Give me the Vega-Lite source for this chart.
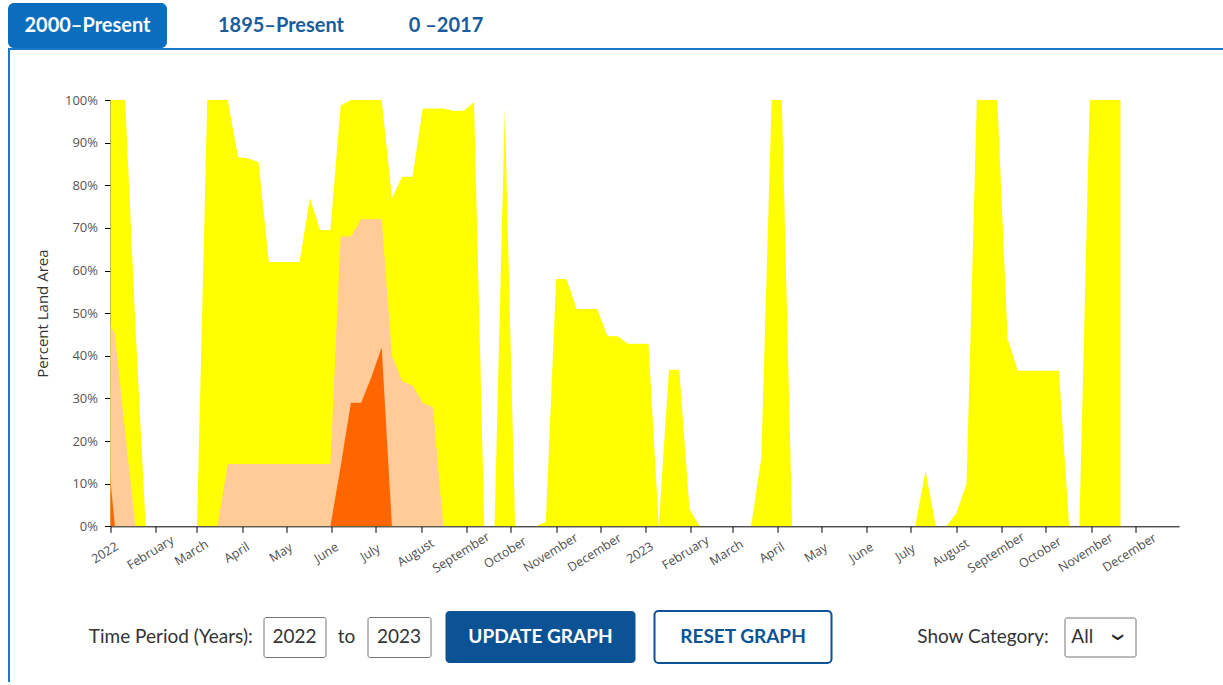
{
  "$schema": "https://vega.github.io/schema/vega-lite/v6.json",
  "background": "#ffffff",
  "padding": {"left": 8, "top": 3, "right": 0, "bottom": 0},
  "bounds": "full",
  "spacing": 0,
  "datasets": {
    "drought": [
      {"date": "2021-12-28", "d0": 100, "d1": 50, "d2": 25},
      {"date": "2022-01-04", "d0": 100, "d1": 45, "d2": 0},
      {"date": "2022-01-11", "d0": 100, "d1": 22, "d2": 0},
      {"date": "2022-01-18", "d0": 47, "d1": 0, "d2": 0},
      {"date": "2022-01-25", "d0": 0, "d1": 0, "d2": 0},
      {"date": "2022-02-01", "d0": 0, "d1": 0, "d2": 0},
      {"date": "2022-02-08", "d0": 0, "d1": 0, "d2": 0},
      {"date": "2022-02-15", "d0": 0, "d1": 0, "d2": 0},
      {"date": "2022-02-22", "d0": 0, "d1": 0, "d2": 0},
      {"date": "2022-03-01", "d0": 0, "d1": 0, "d2": 0},
      {"date": "2022-03-08", "d0": 100, "d1": 0, "d2": 0},
      {"date": "2022-03-15", "d0": 100, "d1": 0, "d2": 0},
      {"date": "2022-03-22", "d0": 100, "d1": 14.6, "d2": 0},
      {"date": "2022-03-29", "d0": 86.6, "d1": 14.6, "d2": 0},
      {"date": "2022-04-05", "d0": 86.3, "d1": 14.6, "d2": 0},
      {"date": "2022-04-12", "d0": 85.4, "d1": 14.6, "d2": 0},
      {"date": "2022-04-19", "d0": 62, "d1": 14.6, "d2": 0},
      {"date": "2022-04-26", "d0": 62, "d1": 14.6, "d2": 0},
      {"date": "2022-05-03", "d0": 62, "d1": 14.6, "d2": 0},
      {"date": "2022-05-10", "d0": 62, "d1": 14.6, "d2": 0},
      {"date": "2022-05-17", "d0": 77, "d1": 14.6, "d2": 0},
      {"date": "2022-05-24", "d0": 69.5, "d1": 14.6, "d2": 0},
      {"date": "2022-05-31", "d0": 69.5, "d1": 14.6, "d2": 0},
      {"date": "2022-06-07", "d0": 98.7, "d1": 68, "d2": 14},
      {"date": "2022-06-14", "d0": 100, "d1": 68, "d2": 29},
      {"date": "2022-06-21", "d0": 100, "d1": 72, "d2": 29},
      {"date": "2022-06-28", "d0": 100, "d1": 72, "d2": 35},
      {"date": "2022-07-05", "d0": 100, "d1": 72, "d2": 42},
      {"date": "2022-07-12", "d0": 77, "d1": 40, "d2": 0},
      {"date": "2022-07-19", "d0": 82, "d1": 34, "d2": 0},
      {"date": "2022-07-26", "d0": 82, "d1": 33, "d2": 0},
      {"date": "2022-08-02", "d0": 98, "d1": 29, "d2": 0},
      {"date": "2022-08-09", "d0": 98, "d1": 28, "d2": 0},
      {"date": "2022-08-16", "d0": 98, "d1": 0, "d2": 0},
      {"date": "2022-08-23", "d0": 97.5, "d1": 0, "d2": 0},
      {"date": "2022-08-30", "d0": 97.5, "d1": 0, "d2": 0},
      {"date": "2022-09-06", "d0": 99.5, "d1": 0, "d2": 0},
      {"date": "2022-09-13", "d0": 0, "d1": 0, "d2": 0},
      {"date": "2022-09-20", "d0": 0, "d1": 0, "d2": 0},
      {"date": "2022-09-27", "d0": 98, "d1": 0, "d2": 0},
      {"date": "2022-10-04", "d0": 0, "d1": 0, "d2": 0},
      {"date": "2022-10-11", "d0": 0, "d1": 0, "d2": 0},
      {"date": "2022-10-18", "d0": 0, "d1": 0, "d2": 0},
      {"date": "2022-10-25", "d0": 1, "d1": 0, "d2": 0},
      {"date": "2022-11-01", "d0": 58, "d1": 0, "d2": 0},
      {"date": "2022-11-08", "d0": 58, "d1": 0, "d2": 0},
      {"date": "2022-11-15", "d0": 51, "d1": 0, "d2": 0},
      {"date": "2022-11-22", "d0": 51, "d1": 0, "d2": 0},
      {"date": "2022-11-29", "d0": 51, "d1": 0, "d2": 0},
      {"date": "2022-12-06", "d0": 44.6, "d1": 0, "d2": 0},
      {"date": "2022-12-13", "d0": 44.6, "d1": 0, "d2": 0},
      {"date": "2022-12-20", "d0": 42.8, "d1": 0, "d2": 0},
      {"date": "2022-12-27", "d0": 42.8, "d1": 0, "d2": 0},
      {"date": "2023-01-03", "d0": 42.8, "d1": 0, "d2": 0},
      {"date": "2023-01-10", "d0": 0, "d1": 0, "d2": 0},
      {"date": "2023-01-17", "d0": 36.7, "d1": 0, "d2": 0},
      {"date": "2023-01-24", "d0": 36.7, "d1": 0, "d2": 0},
      {"date": "2023-01-31", "d0": 4, "d1": 0, "d2": 0},
      {"date": "2023-02-07", "d0": 0, "d1": 0, "d2": 0},
      {"date": "2023-02-14", "d0": 0, "d1": 0, "d2": 0},
      {"date": "2023-02-21", "d0": 0, "d1": 0, "d2": 0},
      {"date": "2023-02-28", "d0": 0, "d1": 0, "d2": 0},
      {"date": "2023-03-07", "d0": 0, "d1": 0, "d2": 0},
      {"date": "2023-03-14", "d0": 0, "d1": 0, "d2": 0},
      {"date": "2023-03-21", "d0": 16, "d1": 0, "d2": 0},
      {"date": "2023-03-28", "d0": 100, "d1": 0, "d2": 0},
      {"date": "2023-04-04", "d0": 100, "d1": 0, "d2": 0},
      {"date": "2023-04-11", "d0": 0, "d1": 0, "d2": 0},
      {"date": "2023-04-18", "d0": 0, "d1": 0, "d2": 0},
      {"date": "2023-04-25", "d0": 0, "d1": 0, "d2": 0},
      {"date": "2023-05-02", "d0": 0, "d1": 0, "d2": 0},
      {"date": "2023-05-09", "d0": 0, "d1": 0, "d2": 0},
      {"date": "2023-05-16", "d0": 0, "d1": 0, "d2": 0},
      {"date": "2023-05-23", "d0": 0, "d1": 0, "d2": 0},
      {"date": "2023-05-30", "d0": 0, "d1": 0, "d2": 0},
      {"date": "2023-06-06", "d0": 0, "d1": 0, "d2": 0},
      {"date": "2023-06-13", "d0": 0, "d1": 0, "d2": 0},
      {"date": "2023-06-20", "d0": 0, "d1": 0, "d2": 0},
      {"date": "2023-06-27", "d0": 0, "d1": 0, "d2": 0},
      {"date": "2023-07-04", "d0": 0, "d1": 0, "d2": 0},
      {"date": "2023-07-11", "d0": 13, "d1": 0, "d2": 0},
      {"date": "2023-07-18", "d0": 0, "d1": 0, "d2": 0},
      {"date": "2023-07-25", "d0": 0, "d1": 0, "d2": 0},
      {"date": "2023-08-01", "d0": 3, "d1": 0, "d2": 0},
      {"date": "2023-08-08", "d0": 10, "d1": 0, "d2": 0},
      {"date": "2023-08-15", "d0": 100, "d1": 0, "d2": 0},
      {"date": "2023-08-22", "d0": 100, "d1": 0, "d2": 0},
      {"date": "2023-08-29", "d0": 100, "d1": 0, "d2": 0},
      {"date": "2023-09-05", "d0": 44, "d1": 0, "d2": 0},
      {"date": "2023-09-12", "d0": 36.5, "d1": 0, "d2": 0},
      {"date": "2023-09-19", "d0": 36.5, "d1": 0, "d2": 0},
      {"date": "2023-09-26", "d0": 36.5, "d1": 0, "d2": 0},
      {"date": "2023-10-03", "d0": 36.5, "d1": 0, "d2": 0},
      {"date": "2023-10-10", "d0": 36.5, "d1": 0, "d2": 0},
      {"date": "2023-10-17", "d0": 0, "d1": 0, "d2": 0},
      {"date": "2023-10-24", "d0": 0, "d1": 0, "d2": 0},
      {"date": "2023-10-31", "d0": 100, "d1": 0, "d2": 0},
      {"date": "2023-11-07", "d0": 100, "d1": 0, "d2": 0},
      {"date": "2023-11-14", "d0": 100, "d1": 0, "d2": 0},
      {"date": "2023-11-21", "d0": 100, "d1": 0, "d2": 0}
    ],
    "blank": []
  },
  "vconcat": [
    {
      "hconcat": [
        {
          "width": 159, "height": 45,
          "view": {"fill": "#0b6dbd", "stroke": null, "cornerRadius": 6},
          "data": {"values": [{"label": "2000–Present"}]},
          "mark": {"type": "text", "font": "Lato", "fontWeight": "bold", "fontSize": 20, "color": "#ffffff", "baseline": "middle"},
          "encoding": {
            "x": {"field": "label", "type": "nominal", "axis": null},
            "y": {"field": "label", "type": "nominal", "axis": null},
            "text": {"field": "label"}
          }
        },
        {
          "width": 228, "height": 45,
          "data": {"values": [{"label": "1895–Present"}]},
          "mark": {"type": "text", "font": "Lato", "fontWeight": "bold", "fontSize": 20, "color": "#1a5c9c", "baseline": "middle"},
          "encoding": {
            "x": {"field": "label", "type": "nominal", "axis": null},
            "y": {"field": "label", "type": "nominal", "axis": null},
            "text": {"field": "label"}
          }
        },
        {
          "width": 102, "height": 45,
          "data": {"values": [{"label": "0 –2017"}]},
          "mark": {"type": "text", "font": "Lato", "fontWeight": "bold", "fontSize": 20, "color": "#1a5c9c", "baseline": "middle"},
          "encoding": {
            "x": {"field": "label", "type": "nominal", "axis": null},
            "y": {"field": "label", "type": "nominal", "axis": null},
            "text": {"field": "label"}
          }
        }
      ],
      "spacing": 0,
      "bounds": "flush"
    },
    {
      "width": 1215, "height": 2,
      "view": {"fill": "#1b76cc", "stroke": null},
      "data": {"name": "blank"},
      "mark": "text",
      "encoding": {}
    },
    {
      "hconcat": [
        {
          "width": 2, "height": 632,
          "view": {"fill": "#1b76cc", "stroke": null},
          "data": {"name": "blank"},
          "mark": "text",
          "encoding": {}
        },
        {
          "vconcat": [
            {
              "width": 10, "height": 49.3,
              "data": {"name": "blank"},
              "mark": "text",
              "encoding": {}
            },
            {
              "width": 1068.6, "height": 426.3,
              "data": {"name": "drought"},
              "encoding": {
                "x": {
                  "field": "date", "type": "temporal", "title": null,
                  "scale": {"type": "utc", "domain": [{"year": 2022, "month": 1, "date": 1, "utc": true}, {"year": 2023, "month": 12, "date": 31, "utc": true}]},
                  "axis": {
                    "tickCount": {"interval": "month", "step": 1},
                    "labelAngle": -32, "labelAlign": "center", "labelBaseline": "middle",
                    "labelOverlap": false, "labelFlush": false, "labelOffset": -6,
                    "grid": false, "domainColor": "#000000", "tickColor": "#000000",
                    "tickSize": 6, "labelFontSize": 12.5, "labelColor": "#4d4d4d",
                    "labelPadding": 20, "labelFont": "Open Sans"
                  }
                }
              },
              "layer": [
                {
                  "mark": {"type": "area", "color": "#FFFF00", "clip": true, "interpolate": "linear"},
                  "encoding": {
                    "y": {
                      "field": "d0", "type": "quantitative", "title": "Percent Land Area",
                      "scale": {"domain": [0, 100]},
                      "axis": {
                        "values": [0, 10, 20, 30, 40, 50, 60, 70, 80, 90, 100],
                        "labelExpr": "datum.value + '%'", "grid": false,
                        "tickSize": 6, "labelPadding": 7, "labelFontSize": 13, "labelColor": "#555555",
                        "labelFont": "Open Sans", "titleFont": "Open Sans",
                        "titleFontSize": 15, "titleFontWeight": "normal", "titleColor": "#333333",
                        "titlePadding": 14, "domainColor": "#000000", "tickColor": "#000000"
                      }
                    }
                  }
                },
                {
                  "mark": {"type": "area", "color": "#FFCC99", "clip": true, "interpolate": "linear"},
                  "encoding": {
                    "y": {"field": "d1", "type": "quantitative", "title": "Percent Land Area", "scale": {"domain": [0, 100]}}
                  }
                },
                {
                  "mark": {"type": "area", "color": "#FF6600", "clip": true, "interpolate": "linear"},
                  "encoding": {
                    "y": {"field": "d2", "type": "quantitative", "title": "Percent Land Area", "scale": {"domain": [0, 100]}}
                  }
                }
              ]
            },
            {
              "width": 10, "height": 83.6,
              "data": {"name": "blank"},
              "mark": "text",
              "encoding": {}
            },
            {
              "hconcat": [
                {
                  "width": 120.6, "height": 52,
                  "data": {"values": [{"label": "Time Period (Years):"}]},
                  "mark": {"type": "text", "font": "Lato", "fontSize": 19, "color": "#333333", "baseline": "middle"},
                  "encoding": {
                    "x": {"field": "label", "type": "nominal", "axis": null},
                    "y": {"field": "label", "type": "nominal", "axis": null},
                    "text": {"field": "label"}
                  }
                },
                {"width": 31.7, "height": 52, "data": {"name": "blank"}, "mark": "text", "encoding": {}},
                {
                  "width": 62, "height": 40,
                  "view": {"fill": "#ffffff", "stroke": "#767676", "strokeWidth": 1, "cornerRadius": 2},
                  "data": {"values": [{"label": "2022"}]},
                  "mark": {"type": "text", "font": "Lato", "fontSize": 19, "color": "#333333", "baseline": "middle"},
                  "encoding": {
                    "x": {"field": "label", "type": "nominal", "axis": null},
                    "y": {"field": "label", "type": "nominal", "axis": null},
                    "text": {"field": "label"}
                  }
                },
                {"width": 11, "height": 52, "data": {"name": "blank"}, "mark": "text", "encoding": {}},
                {
                  "width": 20, "height": 52,
                  "data": {"values": [{"label": "to"}]},
                  "mark": {"type": "text", "font": "Lato", "fontSize": 19, "color": "#333333", "baseline": "middle"},
                  "encoding": {
                    "x": {"field": "label", "type": "nominal", "axis": null},
                    "y": {"field": "label", "type": "nominal", "axis": null},
                    "text": {"field": "label"}
                  }
                },
                {"width": 11, "height": 52, "data": {"name": "blank"}, "mark": "text", "encoding": {}},
                {
                  "width": 63, "height": 40,
                  "view": {"fill": "#ffffff", "stroke": "#767676", "strokeWidth": 1, "cornerRadius": 2},
                  "data": {"values": [{"label": "2023"}]},
                  "mark": {"type": "text", "font": "Lato", "fontSize": 19, "color": "#333333", "baseline": "middle"},
                  "encoding": {
                    "x": {"field": "label", "type": "nominal", "axis": null},
                    "y": {"field": "label", "type": "nominal", "axis": null},
                    "text": {"field": "label"}
                  }
                },
                {"width": 15, "height": 52, "data": {"name": "blank"}, "mark": "text", "encoding": {}},
                {
                  "width": 190, "height": 52,
                  "view": {"fill": "#0b5394", "stroke": null, "cornerRadius": 4},
                  "data": {"values": [{"label": "UPDATE GRAPH"}]},
                  "mark": {"type": "text", "font": "Lato", "fontWeight": "bold", "fontSize": 19, "color": "#ffffff", "baseline": "middle"},
                  "encoding": {
                    "x": {"field": "label", "type": "nominal", "axis": null},
                    "y": {"field": "label", "type": "nominal", "axis": null},
                    "text": {"field": "label"}
                  }
                },
                {"width": 19, "height": 52, "data": {"name": "blank"}, "mark": "text", "encoding": {}},
                {
                  "width": 177, "height": 52,
                  "view": {"fill": "#ffffff", "stroke": "#0b5394", "strokeWidth": 2, "cornerRadius": 4},
                  "data": {"values": [{"label": "RESET GRAPH"}]},
                  "mark": {"type": "text", "font": "Lato", "fontWeight": "bold", "fontSize": 19, "color": "#0b5394", "baseline": "middle"},
                  "encoding": {
                    "x": {"field": "label", "type": "nominal", "axis": null},
                    "y": {"field": "label", "type": "nominal", "axis": null},
                    "text": {"field": "label"}
                  }
                },
                {"width": 82, "height": 52, "data": {"name": "blank"}, "mark": "text", "encoding": {}},
                {
                  "width": 139, "height": 52,
                  "data": {"values": [{"label": "Show Category:"}]},
                  "mark": {"type": "text", "font": "Lato", "fontSize": 19, "color": "#333333", "baseline": "middle"},
                  "encoding": {
                    "x": {"field": "label", "type": "nominal", "axis": null},
                    "y": {"field": "label", "type": "nominal", "axis": null},
                    "text": {"field": "label"}
                  }
                },
                {"width": 12, "height": 52, "data": {"name": "blank"}, "mark": "text", "encoding": {}},
                {
                  "width": 71, "height": 39,
                  "view": {"fill": "#ffffff", "stroke": "#767676", "strokeWidth": 1, "cornerRadius": 2},
                  "data": {"values": [{"label": "All"}, {"label": "❯"}]},
                  "layer": [
                    {
                      "transform": [{"filter": "datum.label == 'All'"}],
                      "mark": {"type": "text", "font": "Lato", "fontSize": 19, "color": "#333333", "baseline": "middle"},
                      "encoding": {
                        "x": {"field": "label", "type": "nominal", "axis": null, "scale": {"domain": ["All", "❯"]}},
                        "y": {"field": "label", "type": "nominal", "axis": null, "scale": {"domain": ["All"]}},
                        "text": {"field": "label"}
                      }
                    },
                    {
                      "transform": [{"filter": "datum.label != 'All'"}],
                      "mark": {"type": "text", "font": "DejaVu Sans", "fontWeight": "bold", "fontSize": 11, "angle": 90, "color": "#222222", "baseline": "middle"},
                      "encoding": {
                        "x": {"field": "label", "type": "nominal", "axis": null, "scale": {"domain": ["All", "❯"]}},
                        "text": {"field": "label"}
                      }
                    }
                  ],
                  "resolve": {"scale": {"y": "independent"}}
                }
              ],
              "spacing": 0,
              "bounds": "flush",
              "center": true
            }
          ],
          "spacing": 0,
          "bounds": "flush"
        }
      ],
      "spacing": 24.5,
      "bounds": "full"
    }
  ],
  "config": {
    "view": {"stroke": null},
    "font": "Open Sans"
  }
}
